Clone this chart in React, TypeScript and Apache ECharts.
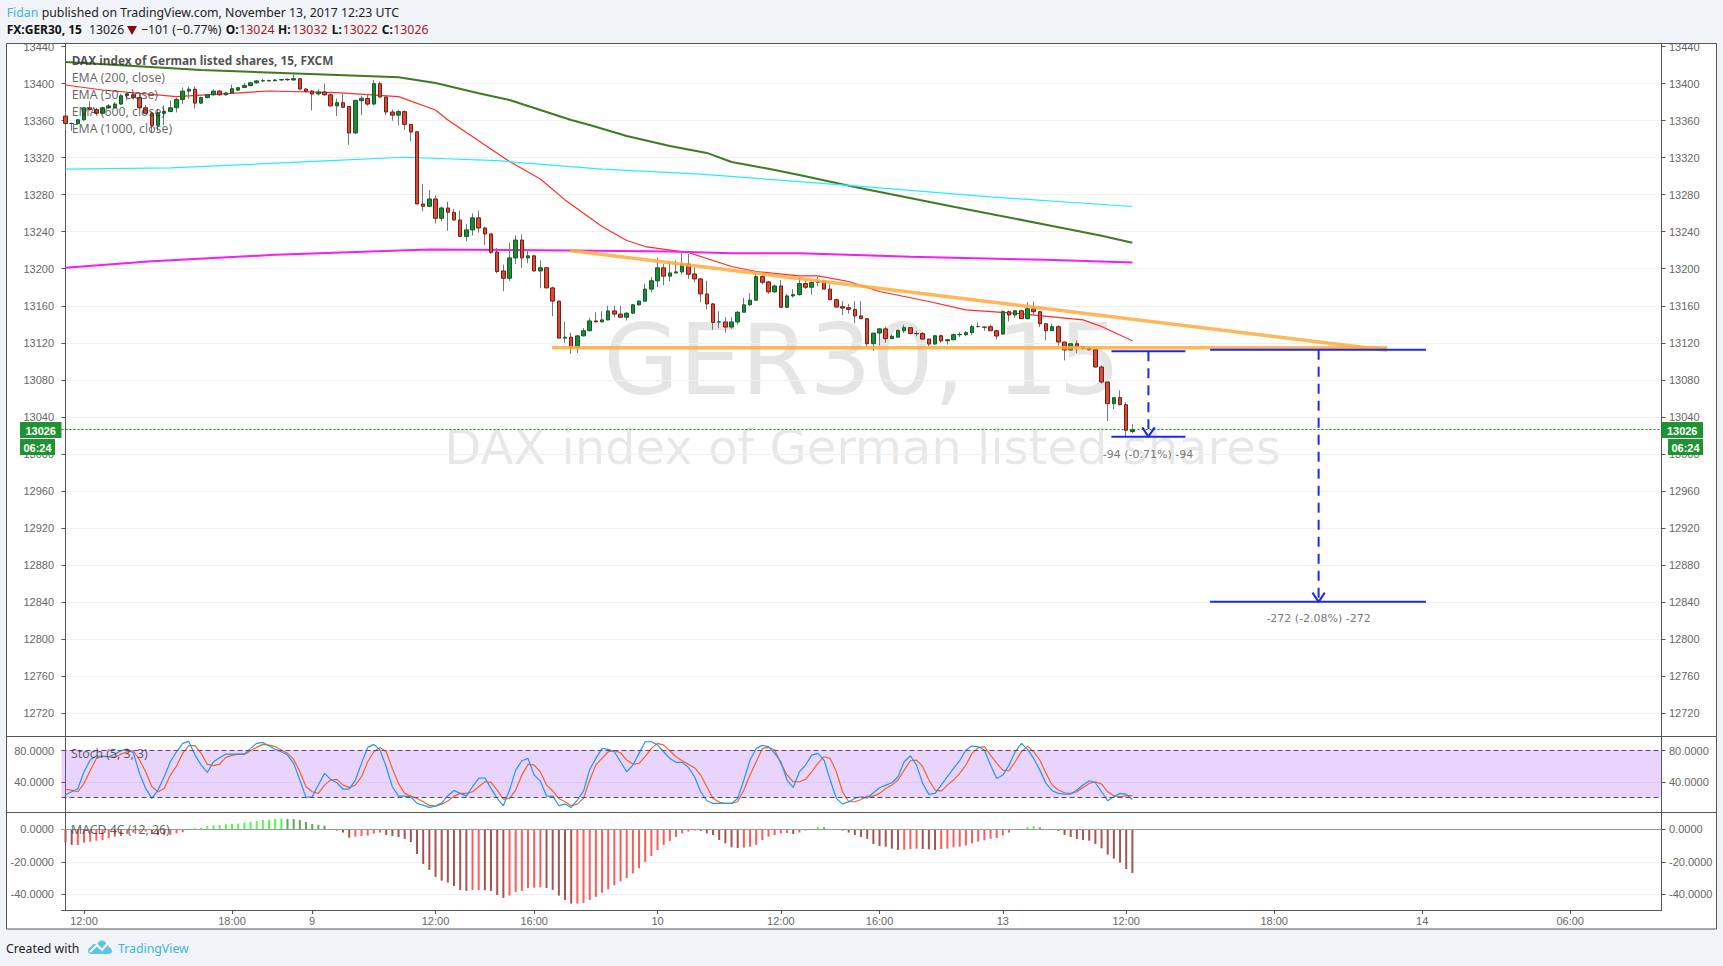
import React, { useEffect, useRef } from "react";
import * as echarts from "echarts";

// Candles as [open, close, low, high], one row per 15-minute bar
const candles: number[][] = [
  [13365,13357,13350,13370],[13357,13357,13349,13358],[13357,13361,13356,13362],[13361,13374,13360,13375],[13374,13372,13371,13381],
  [13372,13368,13367,13374],[13368,13374,13367,13375],[13374,13376,13373,13378],[13374,13378,13373,13380],[13378,13387,13377,13389],
  [13387,13389,13382,13390],[13388,13385,13383,13390],[13385,13374,13373,13390],[13374,13368,13367,13377],[13368,13355,13347,13370],
  [13355,13368,13349,13373],[13368,13370,13355,13376],[13370,13374,13369,13382],[13374,13383,13369,13385],[13383,13392,13378,13396],
  [13392,13394,13384,13397],[13394,13379,13373,13397],[13379,13385,13378,13386],[13385,13388,13384,13389],[13388,13392,13387,13394],
  [13392,13388,13387,13393],[13388,13390,13387,13391],[13390,13394.6,13389,13399],[13393,13395.7,13392,13396],[13396,13398,13395,13401],
  [13398,13401,13397,13402],[13401,13403,13400,13404],[13403,13403.4,13402,13405],[13403,13403.4,13402.5,13404.5],[13403.2,13404,13402.5,13405],
  [13404,13404.5,13403,13405],[13404.7,13404.3,13403,13405.5],[13404,13405.4,13403.5,13410],[13405.4,13394.2,13393,13405.5],[13394.2,13391.7,13391,13395],
  [13392,13388.8,13371,13393.5],[13389,13391,13387,13394],[13391,13388,13387,13400],[13388,13376,13375.5,13389],[13376,13379.5,13365,13384],
  [13379.5,13374.5,13374,13389],[13375.5,13346.7,13334,13376],[13346.7,13382,13346,13382.5],[13381.6,13384.2,13366,13387],[13384,13378,13376,13389],
  [13378,13400,13376.5,13404],[13400,13385.6,13385,13402],[13385.6,13369.4,13366,13386],[13369.4,13366,13360,13372],[13366,13369.8,13355,13372],
  [13369.8,13356,13350,13371],[13356,13347.8,13338,13356.5],[13348,13270,13270,13348.5],[13270,13267.5,13262,13291.6],[13267.5,13275.4,13267,13285],
  [13275.4,13254.5,13249,13279],[13254.5,13265.7,13251,13267],[13265.7,13261,13241,13272.5],[13261,13252.7,13252,13264.6],[13252.7,13235,13234,13262.8],
  [13235,13242,13229.7,13248.4],[13242,13255,13236,13260],[13255,13244,13239,13262.8],[13244,13237.6,13226,13245.5],[13237.6,13217.8,13216,13238.3],
  [13218,13197,13195,13222.5],[13197.6,13189.7,13175.7,13204.5],[13189.7,13211.7,13187,13228],[13211.7,13231,13205,13236],[13231,13211.7,13201,13237],
  [13211.7,13214,13206,13219.6],[13214,13197.6,13197,13214.5],[13197.6,13201,13179,13209],[13201,13179.3,13179,13202],[13179.3,13165,13148.7,13180.7],
  [13165,13125,13125,13165.6],[13125,13126,13120,13143],[13126,13115,13108,13130.7],[13115,13127.4,13109,13128.5],[13127.4,13133,13127,13136],
  [13133,13143.6,13132.5,13147],[13143.6,13142.6,13142,13153],[13142.6,13144.7,13142,13154],[13144.7,13154.4,13144,13160],[13154.4,13151,13147.6,13160],
  [13151,13147.6,13147,13160],[13147.6,13152,13144,13153],[13152,13161,13151,13162],[13161,13165,13160,13166],[13165,13178,13164.5,13184],
  [13178,13187,13174.6,13191],[13187,13201,13180,13212],[13201,13192,13182,13205],[13192,13195.5,13186.5,13207],[13195.5,13196.6,13194.4,13209],
  [13196.6,13205,13193.7,13219],[13205,13194,13189,13216],[13194.4,13189,13185.4,13201.6],[13189,13172.8,13164,13190],[13172.8,13162,13156,13187],
  [13162,13142,13134,13163],[13142.4,13142.6,13136,13154],[13142.5,13137,13131,13147.6],[13137,13142.5,13135,13147.6],[13142.5,13153,13139.7,13154],
  [13153,13161,13153,13168.5],[13161,13166,13160,13173.5],[13166,13191.5,13165.6,13194.4],[13191.5,13185.4,13183,13194.4],[13185.8,13175,13173,13187],
  [13175,13181.4,13174,13183],[13181.4,13158.4,13157.7,13188],[13158.4,13170.6,13157.7,13172.8],[13170.6,13172,13169,13178],[13172,13184,13171,13191],
  [13184,13180,13178,13187],[13180,13185,13172,13187],[13185,13186,13181,13191],[13186,13178,13178,13188],[13178,13166.5,13166,13183],
  [13166.5,13158.6,13158,13167.6],[13159,13157.5,13150,13165],[13158,13156,13151.4,13162],[13156,13149,13141,13165],[13149,13146,13145.5,13165],
  [13146,13119,13116,13146.5],[13119,13130.5,13111,13130.5],[13130.5,13135,13117,13136],[13135,13124.4,13120,13137.7],[13124.4,13127,13124,13129],
  [13126,13133.4,13125.8,13134],[13133,13136.3,13130.5,13139.5],[13136.3,13130,13129,13136.5],[13130,13129.8,13127,13133],[13130,13124,13124,13131.6],
  [13124,13118.6,13116,13124.5],[13118.6,13127.6,13118,13127.8],[13127.6,13122,13120,13128.7],[13122.2,13123.3,13118,13124],[13123.3,13128.7,13122.6,13130],
  [13128.7,13129,13126,13131.6],[13128.7,13130.9,13127,13132.7],[13130.9,13137.4,13128,13139.5],[13137.4,13137.6,13136.8,13142],[13137,13136.8,13133,13137.2],
  [13137.4,13133,13132.7,13139.5],[13133,13127.3,13123.7,13134],[13129.4,13153.6,13129,13155],[13153.6,13150,13143,13155],[13150,13154.6,13147,13155.7],
  [13154.6,13146,13145.6,13155.7],[13146,13156.8,13145.3,13164],[13156.8,13153.6,13150.7,13164.7],[13153.6,13140.6,13137,13154.3],[13140.6,13133,13122.6,13140.7],
  [13133,13137.4,13132.7,13140.6],[13137.4,13120.8,13116.8,13138.8],[13120.8,13112.2,13101,13121],[13112.2,13119,13111.8,13119.2],[13119,13115.8,13108.9,13122.6],
  [13115.8,13114.3,13112.5,13116.5],[13114.7,13112.5,13111.8,13115.5],[13112.5,13093.8,13093.1,13113],[13093.8,13077.6,13075.8,13095.6],[13077.6,13054.2,13035.5,13078],
  [13054.2,13060.7,13048.4,13061],[13060.7,13053.1,13052.4,13068.6],[13053,13025.4,13017.5,13056],[13024,13026,13022,13032],
];

// Moving averages as [bar index, price], read at their visible bends
const ema50 = [[0,13398.6],[6,13393.2],[18,13386],[33,13392.1],[44,13390.3],[54,13386],[60,13371.6],[62,13360.8],[68,13333.8],[72,13315.8],[77,13297],[81,13274.4],[87,13245.6],[91,13230.5],[94,13224],[101,13217.5],[108,13202.4],[112,13197],[119,13192.3],[122,13192.3],[127,13186.2],[132,13175.4],[140,13164.6],[146,13155.6],[153,13152.4],[165,13144.8],[168,13137.6],[173,13122.1]];
const ema200 = [[0,13423.5],[22,13414.8],[43,13409.7],[54,13407],[60,13400.7],[67,13389.6],[72,13382.4],[78,13369.4],[82,13360.8],[85,13355.4],[91,13343.5],[98,13332.7],[104,13325.2],[108,13315.4],[115,13306.8],[119,13301.4],[128,13288.4],[144,13267],[160,13246.3],[168,13235.6],[173,13228]];
const ema600 = [[0,13201],[14,13208],[34,13215],[59,13220.7],[82,13219.7],[98,13218.6],[108,13216.8],[119,13216.8],[137,13213],[159,13209.6],[173,13206.7]];
const ema1000 = [[0,13307.6],[17,13309],[43,13316.8],[55,13320.5],[70,13316.8],[87,13307.6],[103,13302.2],[119,13294.2],[128,13289.5],[150,13277.6],[173,13267.3]];

const trendUpper = [[81.8,13219.7],[214.3,13111.9]];
const trendLower = [[78.9,13114.6],[214.3,13114.6]];

const measureA = { from: 169.6, to: 181.6, mid: 175.6, top: 13110.9, bottom: 13018.5 };
const measureB = { from: 185.6, to: 220.6, mid: 203.2, top: 13112.5, bottom: 12840 };

const stochK = [
  23.2,27.1,31,52.9,68,73.5,72.3,72.3,75.7,80,
  82.1,77.4,50.8,31.4,18.5,29.3,46.5,65.8,78.7,89.5,
  92,74.4,61.5,52,65.8,71,75.7,75.7,75.7,75.7,
  83,89.5,90.7,86.5,81.7,78.7,74.4,63.7,42.2,19.8,
  20.7,35.7,50.8,43,38.7,30.6,30.6,42.2,63.7,84.3,
  88.2,80.9,59.4,33.6,21.5,21.5,20.7,12,9.9,6.9,
  8.6,12.9,22,28.8,25,21.5,33.6,44.3,45.2,31.4,
  18.5,9,29.3,55,67.1,70.1,48.6,40.9,21.5,21.5,
  9,11.2,6.9,16.4,28,55.9,70.1,83,81.7,78.7,
  65.8,52.9,61.5,76.6,91.6,91.6,87.3,78.7,70.1,65,
  65,58.5,46.5,27.1,15.5,12,12,12,12,18.5,
  42.2,68,83,86.9,85.2,76.6,65.8,42.2,32.7,52.9,
  61.5,74.4,76.6,68,42.2,18.5,11.2,14.2,18.5,20.7,
  19,25.8,32.3,35.7,38.7,46.5,65.8,73.5,61.5,37.9,
  23.7,25,35.7,46.5,57.2,67.1,80.9,86,85.2,80.9,
  61.5,44.3,48.6,61.5,78.7,89.5,81.7,70.1,55,37.9,
  28.4,25,24.1,24.1,29.3,35.7,41.3,38.7,27.1,15.5,
  20.7,25,24.1,17.2,
];
const stochD = [
  30.1,29.3,27.1,37.9,54.2,70.1,73.1,72.3,71.4,75.7,
  78.7,80,68,52.9,33.6,27.1,31.4,48.6,60.2,76.6,
  86.5,86.5,76.6,62.4,60.7,62.8,71.4,74,75.7,75.3,
  80,84.3,88.2,87.3,85.2,80.9,76.6,68.8,52.9,33.6,
  27.1,25,35.7,42.2,43,35.7,32.7,35.7,46.5,65.8,
  78.7,84.3,78.7,57.2,37.9,25,21.5,18.5,14.2,9.5,
  8.6,11.2,15.1,21.5,25,25,27.1,33.6,40,39.2,
  29.3,17.7,18.5,29.3,48.6,62.4,61.5,52.9,35.7,28.4,
  18.5,14.2,9,11.2,18.5,42.2,61.5,70.1,78.7,80,
  77.4,68,62.8,63.7,72.3,83,89.5,87.3,80,72.3,
  67.1,62.4,58.1,48.6,33.6,18.5,13.8,12,12,14.2,
  29.3,48.6,65.8,83,84.3,80.9,63.7,48.6,40,40,
  43,52.9,63.7,72.3,70.1,52.9,27.1,14.2,14.2,17.2,
  21.5,21.5,25,31.4,35.7,42.2,55,67.1,68,59.4,
  42.2,29.3,28,35.7,42.2,50.8,61.5,76.6,83.9,85.2,
  74.4,63.7,55,54.2,65.8,78.7,86,78.7,68,50.8,
  35.7,29.3,25.8,25,27.1,32.7,37.9,40,37,27.1,
  22,20.7,22,22,
];
const macdHist = [
  -8.2,-9.6,-9.6,-8.2,-7.6,-7,-6.6,-5.5,-4.5,-4.1,
  -2.9,-2,-1.4,-1.4,-2.9,-3.5,-3.5,-3.5,-2.5,-1.8,
  0.2,0.6,1,2,2.5,2.7,3.1,3.3,3.5,4.1,
  4.5,5.1,5.7,5.9,6.4,6.6,6.4,6.3,5.7,4.5,
  3.3,2.7,2.3,0,-0.8,-2,-5.1,-4.5,-4.1,-3.9,
  -2.7,-2,-3.5,-4.1,-4.7,-5.9,-7.8,-15.2,-21.3,-25,
  -29.3,-31.6,-32.8,-34.9,-37.3,-37.9,-37.3,-37.3,-37.5,-37.9,
  -40.4,-42.2,-40.8,-38.5,-37.9,-36.1,-35.9,-35.7,-36.1,-37.3,
  -40.8,-43.5,-45.7,-45.7,-45.3,-43.5,-41.6,-39,-36.9,-34.4,
  -32,-29.9,-27.1,-24,-20.1,-16.4,-12.7,-9.6,-7.2,-4.7,
  -2.5,-1.4,-0.8,-1,-2.5,-3.5,-6.6,-8.6,-11.1,-11.5,
  -11.3,-10.7,-9.6,-6.6,-4.5,-3.5,-2.5,-2.3,-2.9,-2,
  -0.8,-0.2,1.4,1.2,0,-0.2,-0.8,-2,-3.5,-4.7,
  -5.9,-9,-10.3,-10.7,-11.9,-12.7,-12.5,-12.1,-11.9,-12.1,
  -12.3,-12.7,-12.1,-11.9,-11.1,-10.7,-10,-8.6,-7.6,-6.8,
  -5.9,-5.3,-3.7,-2,-0.4,-0.2,1.4,2,1.2,0,
  0,-1,-3.5,-4.7,-5.9,-6.6,-7,-9,-11.7,-15.6,
  -18,-20.5,-24.4,-26.9,
];

const priceTicks = [13440,13400,13360,13320,13280,13240,13200,13160,13120,13080,13040,13000,12960,12920,12880,12840,12800,12760,12720];
const stochTicks = [80, 40];
const macdTicks = [0, -20, -40];
const timeTickBars = [3,27,40,60,76,96,116,132,152,172,196,220,244];
const timeTickLabels = ["12:00","18:00","9","12:00","16:00","10","12:00","16:00","13","12:00","18:00","14","06:00"];
const lastPrice = 13026;

const X_MIN = -0.65, X_MAX = 258.8;
const LABEL = "#666";
const UI = "'Noto Sans', sans-serif";
const AX = "'Liberation Sans', sans-serif";
const WM = "'DejaVu Sans', sans-serif";
const GREEN = "#1f9232";
const UI_SIZE = 12.3;

echarts.graphic.registerShape(
  "tvCloud",
  echarts.graphic.extendPath("M3 15 C-1 15 -1 9 3 8 C4 5 7 4 9 6 C10 1 16 0 18 4 C20 5 21 7 20.5 8 C25 9 25 15 21 15 Z", {}) as any
);

function txt(x: number, y: number, text: string, fill: string, fontSize: number, extra: any = {}) {
  const { align, family, weight, z } = extra;
  return {
    type: "text", x, y, z: z ?? 20, silent: true,
    style: { text, fill, fontSize, fontFamily: family ?? UI, fontWeight: weight ?? "normal", align: align ?? "left", verticalAlign: "middle" },
  };
}
function hLine(x1: number, x2: number, y: number) {
  return { type: "line", z: 15, silent: true, shape: { x1, y1: y, x2, y2: y }, style: { stroke: "#555", lineWidth: 1 } };
}
function box(x: number, y: number, w: number, h: number, fill: string) {
  return { type: "rect", z: 18, silent: true, shape: { x, y, width: w, height: h }, style: { fill } };
}

function yAxisFor(gridIndex: number, position: string, min: number, max: number, ticks: number[], digits: number) {
  return {
    type: "value", gridIndex, position, min, max, scale: true,
    axisLine: { show: true, lineStyle: { color: "#555", width: 1 } },
    axisTick: { show: true, length: 4, customValues: ticks, lineStyle: { color: "#555" } },
    axisLabel: { color: LABEL, fontSize: 11, fontFamily: AX, margin: 7.5, customValues: ticks, formatter: (v: number) => v.toFixed(digits), showMinLabel: true, showMaxLabel: true },
    splitLine: { show: position === "left", lineStyle: { color: "#f0f0f0", width: 1 } },
  };
}
function xAxisFor(gridIndex: number, visible: boolean) {
  return {
    type: "value", gridIndex, min: X_MIN, max: X_MAX, show: visible,
    axisLine: { show: visible, onZero: false, lineStyle: { color: "#555" } },
    axisTick: { show: visible, length: 4, customValues: timeTickBars, lineStyle: { color: "#555" } },
    axisLabel: {
      show: visible, color: LABEL, fontSize: 11, fontFamily: AX, margin: 5, customValues: timeTickBars,
      formatter: (v: number) => timeTickLabels[timeTickBars.indexOf(Math.round(v))] ?? "",
    },
    splitLine: { show: false },
  };
}
function lineSeries(name: string, data: any[], color: string, width: number, extra: any = {}) {
  return {
    type: "line", name, data, xAxisIndex: extra.axis ?? 0, yAxisIndex: extra.yIndex ?? 0, symbol: "none", silent: true, z: extra.z ?? 3,
    lineStyle: { color, width, type: extra.dash ?? "solid" },
  };
}
function measureSeries(name: string, m: any) {
  const BLUE = "#1c2be8";
  return [
    lineSeries(name + " top", [[m.from, m.top], [m.to, m.top]], BLUE, 2, { z: 6 }),
    lineSeries(name + " bottom", [[m.from, m.bottom], [m.to, m.bottom]], BLUE, 2, { z: 6 }),
    lineSeries(name + " stem", [[m.mid, m.top], [m.mid, m.bottom]], BLUE, 2, { z: 6, dash: [10, 7] }),
    lineSeries(name + " head", [[m.mid - 1, m.bottom + 10], [m.mid, m.bottom], [m.mid + 1, m.bottom + 10]], BLUE, 2, { z: 6 }),
  ];
}

export default function App() {
  const ref = useRef<HTMLDivElement>(null);
  useEffect(() => {
    const chart = echarts.init(ref.current!, undefined, { renderer: "svg" });
    const wickRows = candles.map((c, i) => [i, c[0], c[1], c[2], c[3]]);
    const bodyRows = candles.map((c, i) => [i, c[0], c[1], Math.min(c[0], c[1]), Math.max(c[0], c[1])]);
    const histRows = macdHist.map((v, i) => {
      const prev = i > 0 ? macdHist[i - 1] : v - 1e-3 * Math.sign(v);
      const color = v >= 0 ? (v >= prev ? "#4cff4c" : "#5ba85b") : (v < prev ? "#a85252" : "#ff5a5a");
      return { value: [i, v], itemStyle: { color } };
    });

    const graphicEls: any[] = [
      { type: "rect", z: -5, silent: true, shape: { x: 6.5, y: 43.5, width: 1710, height: 885.5 }, style: { fill: "#fff", stroke: "#555", lineWidth: 1 } },
      txt(862, 360, "GER30, 15", "rgba(0,0,0,0.1)", 98, { align: "center", family: WM, z: -4 }),
      txt(862.5, 447, "DAX index of German listed shares", "rgba(0,0,0,0.1)", 48, { align: "center", family: WM, z: -4 }),
      hLine(6.5, 1716.5, 736.5),
      hLine(6.5, 1716.5, 812.5),

      txt(6.7, 12, "Fidan", "#3bb3e4", UI_SIZE),
      txt(41.7, 12, "published on TradingView.com, November 13, 2017 12:23 UTC", "#222", UI_SIZE),
      txt(6.7, 29, "FX:GER30, 15", "#111", 12, { weight: "bold" }),
      txt(89, 29, "13026", "#222", UI_SIZE),
      { type: "polygon", z: 20, silent: true, shape: { points: [[127, 26], [137, 26], [132, 35]] }, style: { fill: "#8b0a0a" } },
      txt(141, 29, "−101 (−0.77%)", "#222", UI_SIZE),
      txt(225.7, 29, "O:", "#111", 12, { weight: "bold" }),
      txt(239.3, 29, "13024", "#a81818", UI_SIZE),
      txt(278, 29, "H:", "#111", 12, { weight: "bold" }),
      txt(292.3, 29, "13032", "#a81818", UI_SIZE),
      txt(331.7, 29, "L:", "#111", 12, { weight: "bold" }),
      txt(342.7, 29, "13022", "#a81818", UI_SIZE),
      txt(381.7, 29, "C:", "#111", 12, { weight: "bold" }),
      txt(393.3, 29, "13026", "#a81818", UI_SIZE),

      txt(71.7, 60, "DAX index of German listed shares, 15, FXCM", "rgba(50,50,50,0.85)", 11.8, { weight: "bold" }),
      txt(71.7, 77, "EMA (200, close)", "rgba(50,50,50,0.75)", UI_SIZE),
      txt(71.7, 94, "EMA (50, close)", "rgba(50,50,50,0.75)", UI_SIZE),
      txt(71.7, 111, "EMA (600, close)", "rgba(50,50,50,0.75)", UI_SIZE),
      txt(71.7, 128, "EMA (1000, close)", "rgba(50,50,50,0.75)", UI_SIZE),
      txt(71, 753, "Stoch (5, 3, 3)", "rgba(50,50,50,0.75)", UI_SIZE),
      txt(71, 829, "MACD 4C (12, 26)", "rgba(50,50,50,0.75)", UI_SIZE),

      txt(1148, 454, "-94 (-0.71%) -94", "#777", 11, { align: "center", family: WM }),
      txt(1318.6, 618, "-272 (-2.08%) -272", "#777", 11, { align: "center", family: WM }),

      box(20, 422, 41.5, 16, GREEN),
      txt(40.7, 430.5, "13026", "#fff", 11, { align: "center", family: AX, weight: "bold", z: 19 }),
      box(20, 439, 35, 16, GREEN),
      txt(37.5, 447.5, "06:24", "#fff", 11, { align: "center", family: AX, weight: "bold", z: 19 }),
      box(1661.5, 422, 41.5, 16, GREEN),
      txt(1682.2, 430.5, "13026", "#fff", 11, { align: "center", family: AX, weight: "bold", z: 19 }),
      box(1668, 439, 35, 16, GREEN),
      txt(1685.5, 447.5, "06:24", "#fff", 11, { align: "center", family: AX, weight: "bold", z: 19 }),

      txt(6, 948, "Created with", "#222", UI_SIZE),
      { type: "tvCloud", x: 88, y: 939, z: 20, silent: true, style: { fill: "#5cc4ea" } },
      { type: "polyline", z: 21, silent: true, shape: { points: [[90, 952], [97, 945], [102, 950], [108, 943]] }, style: { stroke: "#fff", lineWidth: 2, fill: "none" } },
      txt(118, 948, "TradingView", "#3bb3e4", UI_SIZE),
    ];

    const option: any = {
      animation: false,
      backgroundColor: "#f0f3f7",
      tooltip: { show: false },
      graphic: { elements: graphicEls },
      grid: [
        { left: 61.5, top: 44, width: 1600, height: 692 },
        { left: 61.5, top: 736, width: 1600, height: 76 },
        { left: 61.5, top: 812, width: 1600, height: 98 },
      ],
      xAxis: [xAxisFor(0, false), xAxisFor(1, false), xAxisFor(2, true)],
      yAxis: [
        yAxisFor(0, "left", 12695, 13442.9, priceTicks, 0),
        yAxisFor(0, "right", 12695, 13442.9, priceTicks, 0),
        yAxisFor(1, "left", 1, 99, stochTicks, 4),
        yAxisFor(1, "right", 1, 99, stochTicks, 4),
        yAxisFor(2, "left", -49.66, 10.65, macdTicks, 4),
        yAxisFor(2, "right", -49.66, 10.65, macdTicks, 4),
      ],
      series: [
        {
          type: "candlestick", name: "wicks", data: wickRows, xAxisIndex: 0, yAxisIndex: 0, barWidth: 1, silent: true, z: 3,
          itemStyle: { color: "#777", color0: "#777", borderColor: "#777", borderColor0: "#777", borderWidth: 1 },
          markLine: {
            silent: true, symbol: "none", label: { show: false },
            lineStyle: { color: "#1a7a2e", type: [2, 2], width: 1 }, data: [{ yAxis: lastPrice }],
          },
        },
        {
          type: "candlestick", name: "FX:GER30, 15", data: bodyRows, xAxisIndex: 0, yAxisIndex: 0, barWidth: 4, silent: true, z: 4,
          itemStyle: { color: "#1b8a37", color0: "#d64a36", borderColor: "#0f5c24", borderColor0: "#7a1c12", borderWidth: 1 },
        },
        lineSeries("EMA (200, close)", ema200, "#3d7a22", 2),
        lineSeries("EMA (50, close)", ema50, "#ff2a2a", 1.2),
        lineSeries("EMA (600, close)", ema600, "#f91af9", 2),
        lineSeries("EMA (1000, close)", ema1000, "#22eeff", 1.2),
        lineSeries("Trend upper", trendUpper, "rgba(255,170,60,0.85)", 3.5, { z: 5 }),
        lineSeries("Trend lower", trendLower, "rgba(255,170,60,0.85)", 3.5, { z: 5 }),
        ...measureSeries("Measure A", measureA),
        ...measureSeries("Measure B", measureB),
        {
          ...lineSeries("%D", stochD.map((v, i) => [i, v]), "#f4641e", 1.2, { axis: 1, yIndex: 2 }),
          markArea: { silent: true, itemStyle: { color: "rgba(155,60,250,0.22)" }, data: [[{ yAxis: 20 }, { yAxis: 80 }]] },
          markLine: { silent: true, symbol: "none", label: { show: false }, lineStyle: { color: "#5a4a68", type: [5, 3], width: 1 }, data: [{ yAxis: 80 }, { yAxis: 20 }] },
        },
        lineSeries("%K", stochK.map((v, i) => [i, v]), "#2196f3", 1.2, { axis: 1, yIndex: 2, z: 4 }),
        {
          type: "bar", name: "MACD 4C", data: histRows, xAxisIndex: 2, yAxisIndex: 4, barWidth: 2, silent: true, z: 3,
          markLine: { silent: true, symbol: "none", label: { show: false }, lineStyle: { color: "#999", type: "solid", width: 1 }, data: [{ yAxis: 0 }] },
        },
      ],
    };
    chart.setOption(option);
    return () => chart.dispose();
  }, []);
  return <div ref={ref} style={{ position: "absolute", left: 0, top: 0, width: 1723, height: 966 }} />;
}
